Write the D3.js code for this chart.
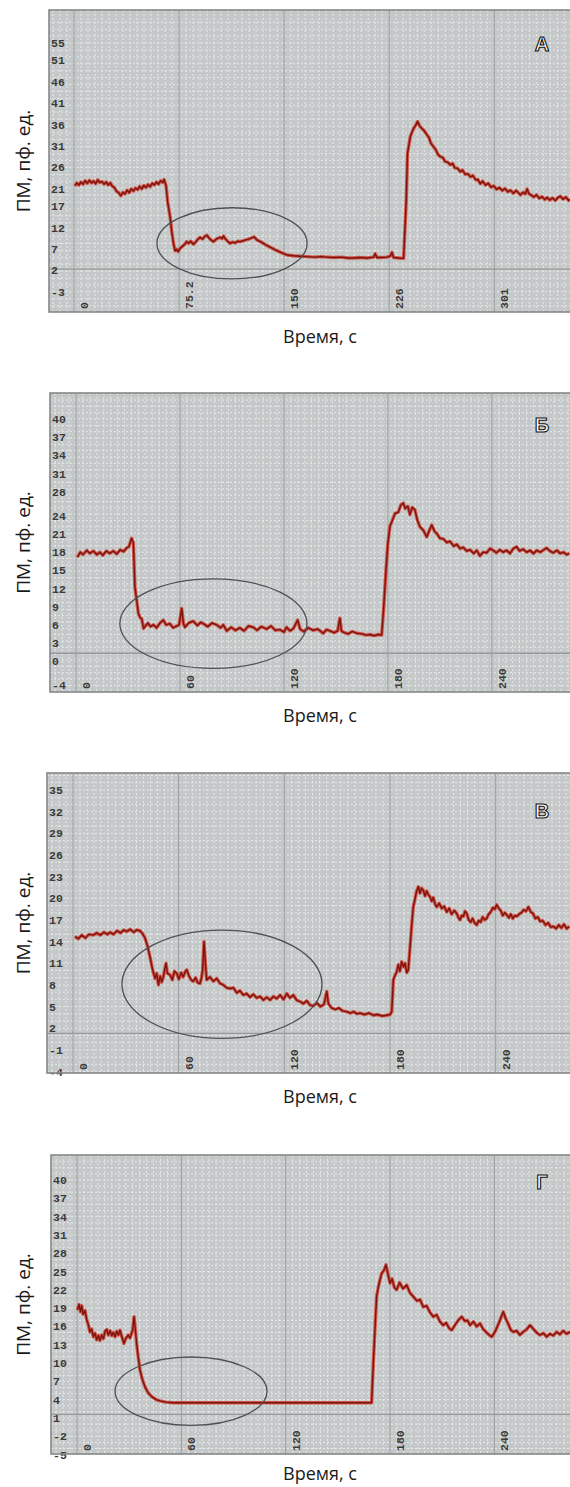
<!DOCTYPE html>
<html>
<head>
<meta charset="utf-8">
<script src="https://cdn.jsdelivr.net/npm/d3@7"></script>
<style>
  body { margin: 0; background: #fff; }
</style>
</head>
<body>
<svg id="vis"></svg>
<script>
// ---- data ----
const panelLetters = ["А", "Б", "В", "Г"];
const xTitle = "Время, с";
const yTitle = "ПМ, пф. ед.";

// y tick labels per panel
const yTicksA = [55, 51, 46, 41, 36, 31, 26, 21, 17, 12, 7, 2, -3];
const yTicksB = [40, 37, 34, 31, 28, 24, 21, 18, 15, 12, 9, 6, 3, 0, -4];
const yTicksV = [35, 32, 29, 26, 23, 20, 17, 14, 11, 8, 5, 2, -1, -4];
const yTicksG = [40, 37, 34, 31, 28, 25, 22, 19, 16, 13, 10, 7, 4, 1, -2, -5];

// x ticks (seconds) and their printed labels
const xTicksA = [0, 75.2, 150.4, 225.6, 300.8];
const xLabelsA = ["0", "75.2", "150", "226", "301"];
const xTicks60 = [0, 60, 120, 180, 240];
const xLabels60 = ["0", "60", "120", "180", "240"];

// traces: [time s, value]
const seriesA = [[0.7,21.7],[2,22.4],[3.5,21.9],[5,22.6],[6.5,22.1],[8,22.9],[9.5,22.3],[11,23.0],[12.5,22.4],[14,22.8],[15.5,22.2],[17,23.1],[18.5,22.5],[20,22.7],[21.5,22.1],[23,22.6],[24.5,21.9],[26,22.4],[27.5,21.6],[29,21.3],[30.5,20.4],[32,20.1],[33.5,19.4],[35,20.2],[36.5,19.8],[38,20.7],[39.5,20.1],[41,21.0],[42.5,20.5],[44,21.2],[45.5,20.8],[47,21.6],[48.5,21.0],[50,21.8],[51.5,21.3],[53,22.0],[54.5,21.5],[56,22.3],[57.5,21.9],[59,22.6],[60.5,22.1],[62,22.9],[63.5,22.5],[64.5,23.2],[65.9,21.7],[67,18.0],[68.8,14.5],[70,11.0],[71.2,8.3],[72.3,6.6],[73.5,6.9],[74.5,6.4],[75.9,7.1],[77.5,7.6],[79,8.0],[80.7,8.7],[82,8.3],[83.5,8.8],[85.5,8.1],[87,8.6],[88.5,9.2],[90.2,9.7],[92,9.3],[93.5,9.9],[95.1,10.2],[96.5,9.6],[98,9.1],[99.8,8.7],[101.5,9.2],[103,9.5],[104.6,9.7],[106,9.4],[107,10.0],[108.5,9.3],[110,8.8],[111.7,8.3],[113.5,8.6],[115.5,8.4],[117,8.8],[118.9,8.7],[121,8.9],[123,9.1],[125,9.3],[127.3,9.6],[129,9.8],[130.9,9.1],[134,8.6],[137,8.0],[140.4,7.4],[144,6.8],[148,6.2],[152.4,5.6],[157,5.4],[162,5.3],[166.7,5.2],[172,5.1],[177,5.2],[181,5.1],[186,5.0],[191,5.1],[196,4.9],[200.1,4.9],[205,5.0],[210,4.9],[214.5,5.1],[215.6,5.9],[216.8,5.0],[220,5.0],[224,5.1],[226.5,5.4],[227.6,6.2],[228.7,5.0],[232,4.9],[235.9,4.8],[237.8,18.4],[238.7,29.3],[240.7,33.2],[242,34.3],[243.1,35.1],[244.5,35.8],[245.9,36.7],[247.5,35.6],[249,35.1],[250.5,34.6],[252.6,33.6],[254,33.0],[255.5,31.6],[257.4,30.8],[259,30.1],[260.5,29.0],[262.2,28.5],[264,28.3],[265.5,27.4],[267.5,27.2],[269.3,26.6],[271,26.9],[272.5,25.9],[274.5,25.8],[276.5,25.0],[278,25.4],[280,24.4],[282,24.5],[283.7,23.8],[285.5,24.1],[287.5,23.1],[289,23.2],[290.8,22.2],[292.5,22.8],[294.5,21.9],[296.5,22.3],[298.5,21.4],[300.4,21.7],[302.5,20.9],[304.5,21.3],[306.5,20.6],[308.5,21.1],[310.5,20.3],[312.3,20.7],[314.5,20.0],[316.5,20.6],[319.5,19.6],[321.5,20.2],[323,19.8],[324.3,21.0],[325.5,19.9],[327.5,19.5],[329.1,19.1],[331,19.6],[333,18.8],[335,19.2],[337,18.5],[338.6,19.0],[340.5,18.4],[342.5,18.9],[344.5,18.3],[346.5,19.0],[348.1,19.3],[350,18.6],[352,19.1],[354,18.3],[355,18.6]];

const seriesB = [[0.8,17.2],[2.5,18.0],[4,17.6],[6.2,18.3],[8,17.8],[10,18.2],[12,17.6],[13.8,18.0],[15.5,17.5],[17.5,18.2],[19.5,17.8],[21.5,18.2],[23.5,17.7],[25.5,18.4],[27.5,18.1],[29.2,18.7],[30.5,18.9],[32.1,20.3],[33.1,19.5],[34.0,12.3],[36.0,7.9],[37.0,7.2],[37.9,7.0],[39.0,5.4],[39.8,5.7],[41.5,6.3],[43,5.7],[44.6,6.0],[46.5,5.5],[48.5,6.3],[50.4,6.8],[52,6.0],[54.2,6.2],[56,5.5],[58.1,5.8],[59.5,6.0],[61.0,8.7],[62.0,6.2],[62.9,5.6],[65,6.3],[67.7,6.6],[70,5.9],[72,6.4],[73.5,6.2],[76,5.7],[78.5,6.3],[81.2,6.0],[83.5,5.5],[85,6.0],[87.0,5.0],[89.5,5.6],[92,5.1],[94.6,5.5],[97,5.0],[99.5,5.8],[102.3,5.6],[104.5,5.1],[107,5.7],[110.0,5.3],[112.5,5.8],[115,5.1],[117.7,5.2],[120,4.8],[121.5,5.6],[123.5,5.0],[125.5,5.4],[127.9,6.8],[129.3,5.3],[131.5,4.9],[134,5.5],[136.9,5.1],[139.5,5.3],[142.7,4.6],[144.5,5.2],[146.6,5.0],[149,4.7],[151,5.0],[152.3,7.1],[153.2,5.0],[154.2,4.8],[157,4.5],[159.5,4.9],[162.0,4.6],[165,4.5],[167.5,4.3],[169.6,4.4],[172,4.2],[174.5,4.4],[176.4,4.3],[177.5,8.5],[178.9,15.0],[180,19.5],[181.2,22.3],[182.5,23.2],[184.1,24.4],[186,24.6],[187.5,25.8],[188.9,26.1],[190,25.2],[191.5,25.6],[192.7,24.2],[194,25.4],[195.6,25.0],[197,23.3],[198.5,22.2],[200.5,21.6],[202.4,20.5],[203.8,21.5],[205.3,22.5],[207,21.4],[208.5,21.0],[210.0,20.3],[212,20.2],[214,19.6],[215.8,19.8],[218,19.0],[219.8,19.3],[221.6,18.6],[223.5,18.8],[225.5,18.2],[227.4,18.4],[229.5,17.8],[231.3,18.3],[233.1,17.4],[235,18.0],[237,17.9],[239,18.6],[240.8,18.3],[242.7,17.9],[244.6,18.4],[246.5,18.0],[248.5,18.3],[250.5,17.8],[252.4,18.6],[254.3,18.9],[256,18.2],[258,18.5],[260.1,18.0],[262,18.3],[264,17.8],[265.9,18.3],[268,18.0],[270,18.4],[271.6,18.7],[273.5,18.2],[275.4,17.9],[277.5,18.3],[279.5,17.8],[281.5,18.0],[283,17.6],[284.7,17.8]];

const seriesV = [[1.1,14.7],[3,14.4],[5,14.9],[7,14.5],[9,15.0],[11.5,14.9],[13.5,15.2],[15.5,14.9],[17.5,15.3],[19.5,15.0],[21.0,15.3],[23,15.0],[25,15.5],[27,15.2],[28.8,15.6],[30.5,15.4],[32.5,15.7],[34.5,15.3],[36,15.6],[38.0,15.5],[39.5,15.1],[40.9,14.5],[42.3,13.4],[43.7,11.9],[45.2,10.1],[46.6,8.9],[47.5,9.6],[48.5,8.0],[49.5,9.2],[50.4,8.4],[51.3,9.1],[52.1,10.2],[52.8,11.0],[53.6,9.6],[55.1,9.4],[56.4,8.7],[57.6,9.9],[58.9,9.6],[60.1,8.8],[61.4,9.7],[62.6,9.1],[63.6,9.8],[64.6,10.1],[65.9,9.2],[67.1,8.7],[68.3,8.5],[69.6,9.0],[70.8,8.3],[72.1,8.2],[73.0,9.0],[73.6,10.1],[74.4,14.0],[75.3,10.5],[75.9,8.7],[77.8,9.1],[79.7,8.5],[81.6,8.9],[83.5,8.2],[85.4,8.0],[87.3,7.6],[89.2,7.5],[91.1,7.6],[93,6.9],[94.8,7.2],[96.7,6.6],[98.6,6.8],[100.5,6.3],[102.4,6.7],[104.3,6.2],[106.2,6.4],[108.1,5.9],[110,6.3],[111.9,5.9],[113.8,6.4],[115.7,6.1],[117.6,6.6],[119.5,6.0],[121.4,6.8],[123.2,6.2],[125.1,6.6],[127,5.9],[128.9,5.7],[130.8,5.4],[132.7,5.8],[134.6,5.2],[136.5,5.1],[138.5,5.5],[140.5,5.0],[142.5,5.3],[143.3,6.2],[144.1,7.1],[145.0,5.4],[146.9,4.8],[149,4.6],[151,4.8],[153,4.4],[155.4,4.3],[157.5,4.1],[159.5,4.3],[161,4.0],[163.0,4.1],[165.5,3.9],[168,4.1],[170.5,3.8],[173,3.9],[175.5,3.7],[178.1,3.8],[180,3.9],[181.0,4.3],[181.9,8.7],[182.8,9.3],[183.8,9.8],[184.7,10.8],[185.6,9.9],[186.6,11.2],[187.6,10.5],[188.5,11.0],[189.5,9.7],[190.4,10.1],[191.4,13.3],[192.3,16.2],[193.2,18.8],[194.2,19.9],[195.1,21.0],[196.1,21.6],[197.0,20.7],[197.9,21.4],[198.9,21.1],[199.9,20.3],[200.8,21.0],[201.8,20.5],[202.7,20.2],[203.7,19.6],[204.6,20.1],[205.6,19.2],[206.5,18.8],[207.9,19.3],[209.4,18.6],[210.8,18.9],[212.2,18.1],[213.6,18.6],[215,17.8],[216.5,18.3],[217.9,17.9],[218.9,17.3],[219.8,17.0],[220.7,17.6],[221.7,17.5],[222.6,18.2],[223.6,17.9],[224.7,17.0],[225.8,16.7],[226.9,17.2],[228,16.6],[229.2,16.3],[230.3,16.9],[231.5,16.7],[232.6,17.4],[233.8,17.0],[234.9,17.2],[236,17.8],[237.2,18.1],[238.4,18.7],[239.5,18.5],[240.6,19.1],[241.8,18.6],[242.9,18.3],[244,17.6],[245.2,18.0],[246.3,17.7],[247.5,17.3],[248.6,17.8],[249.7,17.2],[250.9,17.6],[252.0,17.5],[253.3,17.8],[254.6,18.0],[255.9,18.4],[257.2,18.2],[258.6,18.8],[259.9,18.1],[261.2,17.9],[262.5,17.2],[263.9,17.4],[265.2,16.8],[266.7,16.9],[268.3,16.3],[269.8,16.6],[271.3,16.0],[272.8,16.1],[274.3,15.8],[275.8,16.3],[277.3,15.9],[278.8,16.4],[280.3,15.8],[281.8,16.1]];

const seriesG = [[0.2,18.7],[1.2,19.6],[2.0,18.4],[2.7,19.4],[3.5,18.0],[4.6,18.6],[5.5,17.2],[6.5,16.3],[7.4,15.1],[8.4,15.6],[9.4,14.3],[10.4,14.9],[11.3,13.8],[12.3,14.5],[13.2,13.7],[14.2,14.6],[15.2,14.0],[16.1,15.2],[17.1,15.5],[18.0,14.6],[19.0,15.3],[20.0,14.5],[20.9,15.0],[21.9,14.3],[22.8,15.2],[23.8,14.6],[24.7,15.4],[25.7,14.4],[27.0,13.2],[28.0,14.0],[29.5,14.6],[30.5,14.1],[32.0,15.4],[32.8,17.6],[33.5,15.6],[34.3,13.2],[35.2,11.0],[36.2,8.9],[37.6,7.3],[39.1,6.1],[41,5.1],[43,4.5],[45.5,4.0],[47.7,3.8],[51,3.6],[55.4,3.5],[70,3.5],[90,3.5],[110,3.5],[130,3.5],[150,3.5],[169.4,3.5],[170.4,10.0],[171.5,16.5],[172.3,20.9],[173.5,22.8],[175.2,24.7],[176.5,25.2],[177.7,26.1],[178.8,24.6],[180.0,23.1],[181.2,23.8],[182.5,22.4],[183.8,22.0],[185.5,23.2],[187.5,22.2],[189.6,22.8],[191.5,21.5],[193.4,20.9],[195.5,20.2],[197.3,20.4],[199.1,19.2],[201,19.4],[203,18.3],[204.9,17.6],[206.8,17.9],[208.7,16.8],[210.6,16.2],[212.3,16.6],[214,15.7],[215.5,15.4],[217.5,16.3],[219.5,17.1],[221.2,17.6],[223,16.9],[224.5,17.0],[226.0,16.2],[228,16.8],[229.8,16.0],[231.7,16.5],[233.5,15.6],[235.5,15.0],[237,14.6],[238.5,14.3],[240.5,15.2],[242.5,16.5],[244,17.6],[245.1,18.4],[246.5,17.3],[248,16.4],[249.5,15.4],[250.9,15.1],[252.8,15.3],[254.7,14.6],[256.5,15.1],[258.5,15.5],[260.5,16.2],[262.4,15.6],[264.3,15.0],[266.2,14.6],[268.2,14.9],[270.1,14.3],[272,14.8],[273.9,14.5],[275.8,15.1],[277.7,14.7],[279.6,15.3],[281.5,14.8],[283.5,15.1]];

// circled regions: [centre time, centre value, half-width s, half-height units]
const ellipseA = [113.1, 8.3, 53.7, 8.3];
const ellipseB = [79.3, 6.2, 54.0, 7.4];
const ellipseV = [84.6, 8.1, 56.8, 7.5];
const ellipseG = [65.6, 5.4, 43.7, 5.6];

// ---- layout (pixels measured on the picture) ----
const width = 570, height = 1487;

const panels = [
  {series: seriesA, yTicks: yTicksA, xTicks: xTicksA, xLabels: xLabelsA, ell: ellipseA,
   top: 10, bottom: 312, left: 49, x0: 74, xMax: 355, yDom: [-7.7, 62.7], base: 2.3, letterY: 51, titleY: 343},
  {series: seriesB, yTicks: yTicksB, xTicks: xTicks60, xLabels: xLabels60, ell: ellipseB,
   top: 393, bottom: 692, left: 50, x0: 76, xMax: 285.1, yDom: [-5.1, 44.3], base: 1.3, letterY: 432, titleY: 722},
  {series: seriesV, yTicks: yTicksV, xTicks: xTicks60, xLabels: xLabels60, ell: ellipseV,
   top: 773, bottom: 1073, left: 47, x0: 73, xMax: 282.2, yDom: [-4.2, 37.35], base: 1.3, letterY: 818, titleY: 1103},
  {series: seriesG, yTicks: yTicksG, xTicks: xTicks60, xLabels: xLabels60, ell: ellipseG,
   top: 1155, bottom: 1454, left: 51, x0: 77, xMax: 283.5, yDom: [-4.9, 44.1], base: 1.6, letterY: 1189, titleY: 1480}
];

const svg = d3.select("#vis")
  .attr("width", width)
  .attr("height", height);

panels.forEach(function(p, i)
{
  const right = width;
  const x = d3.scaleLinear().domain([0, p.xMax]).range([p.x0, right]);
  const y = d3.scaleLinear().domain(p.yDom).range([p.bottom, p.top]);

  const g = svg.append("g");

  const clipId = "clip" + i;
  g.append("clipPath").attr("id", clipId)
    .append("rect")
    .attr("x", p.left).attr("y", p.top)
    .attr("width", right - p.left).attr("height", p.bottom - p.top);

  // plot background
  g.append("rect")
    .attr("x", p.left).attr("y", p.top)
    .attr("width", right - p.left).attr("height", p.bottom - p.top)
    .attr("fill", "#c5c8c8");

  const grid = g.append("g").attr("clip-path", "url(#" + clipId + ")");

  // minor dotted grid: 15 per major x step, 3 per y label step
  const xStep = (x(p.xTicks[1]) - x(p.xTicks[0])) / 15;
  const yStep = (y(p.yTicks[p.yTicks.length - 1]) - y(p.yTicks[0])) / (p.yTicks.length - 1) / 3;
  const vx = d3.range(p.x0 - 3 * xStep, right, xStep);
  const hy = d3.range(y(p.yTicks[0]) - 3 * yStep, p.bottom, yStep);

  grid.selectAll(".vg").data(vx).enter().append("line")
    .attr("x1", d => d).attr("x2", d => d)
    .attr("y1", p.top).attr("y2", p.bottom)
    .attr("stroke", "#e8eaea").attr("stroke-width", 1)
    .attr("stroke-dasharray", "2,2");
  grid.selectAll(".hg").data(hy).enter().append("line")
    .attr("x1", p.left).attr("x2", right)
    .attr("y1", d => d).attr("y2", d => d)
    .attr("stroke", "#e8eaea").attr("stroke-width", 1)
    .attr("stroke-dasharray", "2,2");

  // major lines at x ticks and baseline
  grid.selectAll(".mx").data(p.xTicks).enter().append("line")
    .attr("x1", d => x(d)).attr("x2", d => x(d))
    .attr("y1", p.top).attr("y2", p.bottom)
    .attr("stroke", "#979a9a").attr("stroke-width", 1);
  grid.append("line")
    .attr("x1", p.left).attr("x2", right)
    .attr("y1", y(p.base)).attr("y2", y(p.base))
    .attr("stroke", "#979a9a").attr("stroke-width", 1.3);

  // y tick labels inside frame
  g.selectAll(".yl").data(p.yTicks).enter().append("text")
    .attr("x", p.left + 2)
    .attr("y", d => y(d))
    .attr("dy", "0.35em")
    .attr("font-family", "Liberation Mono, DejaVu Sans Mono, monospace")
    .attr("font-size", 11.5)
    .attr("font-weight", "bold")
    .attr("fill", "#3a3a3a")
    .text(d => d);

  // x tick labels, rotated, inside frame at bottom
  g.selectAll(".xl").data(p.xTicks).enter().append("text")
    .attr("transform", d => "translate(" + (x(d) + 14) + "," + (p.bottom - 3) + ") rotate(-90)")
    .attr("font-family", "Liberation Mono, DejaVu Sans Mono, monospace")
    .attr("font-size", 11.5)
    .attr("font-weight", "bold")
    .attr("fill", "#3a3a3a")
    .text((d, k) => p.xLabels[k]);

  // trace: red halo with dark core
  const line = d3.line().x(d => x(d[0])).y(d => y(d[1]));
  const tr = g.append("g").attr("clip-path", "url(#" + clipId + ")");
  tr.append("path").attr("d", line(p.series))
    .attr("fill", "none").attr("stroke", "#cf3a2d")
    .attr("stroke-width", 3.4).attr("stroke-linejoin", "round").attr("opacity", 0.8);
  tr.append("path").attr("d", line(p.series))
    .attr("fill", "none").attr("stroke", "#7e130b")
    .attr("stroke-width", 1.4).attr("stroke-linejoin", "round");

  // circled region
  const e = p.ell;
  g.append("ellipse")
    .attr("cx", x(e[0])).attr("cy", y(e[1]))
    .attr("rx", x(e[0] + e[2]) - x(e[0]))
    .attr("ry", y(e[1] - e[3]) - y(e[1]))
    .attr("fill", "none").attr("stroke", "#4d5152").attr("stroke-width", 1.3);

  // frame
  g.append("rect")
    .attr("x", p.left).attr("y", p.top)
    .attr("width", right - p.left + 2).attr("height", p.bottom - p.top)
    .attr("fill", "none").attr("stroke", "#858888").attr("stroke-width", 1.6);

  // panel letter
  g.append("text")
    .attr("x", 542).attr("y", p.letterY)
    .attr("text-anchor", "middle")
    .attr("font-family", "Liberation Sans, Arial, sans-serif")
    .attr("font-weight", "bold")
    .attr("font-size", 20)
    .attr("fill", "#fff").attr("stroke", "#111").attr("stroke-width", 1.1)
    .text(panelLetters[i]);

  // axis titles
  g.append("text")
    .attr("transform", "translate(30," + ((p.top + p.bottom) / 2) + ") rotate(-90)")
    .attr("text-anchor", "middle")
    .attr("font-family", "Open Sans, sans-serif")
    .attr("font-size", 19)
    .attr("fill", "#1a1a1a")
    .text(yTitle);
  g.append("text")
    .attr("x", 320).attr("y", p.titleY)
    .attr("text-anchor", "middle")
    .attr("font-family", "Open Sans, sans-serif")
    .attr("font-size", 18)
    .attr("fill", "#1a1a1a")
    .text(xTitle);
});
</script>
</body>
</html>
